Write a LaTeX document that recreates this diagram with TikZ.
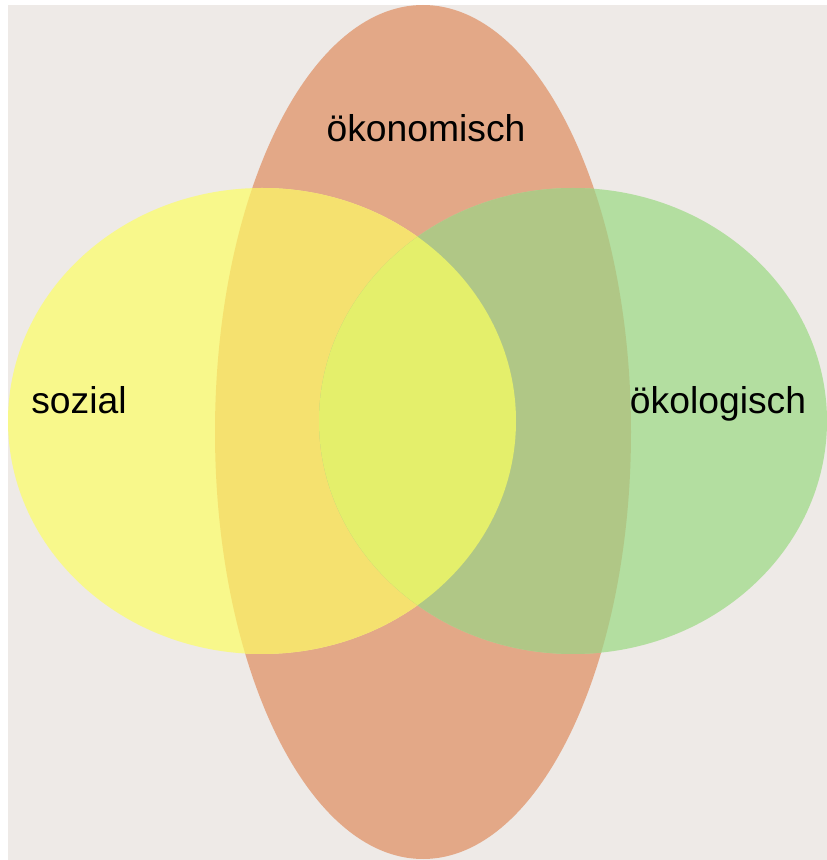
\documentclass[tikz,border=0pt]{standalone}
\usepackage{fontspec}
\setmainfont{Liberation Sans}
\usepackage{xcolor}
\usepackage{tikz}
\definecolor{bggray}{HTML}{EEEAE7}
\definecolor{oekoorange}{HTML}{E3A887}
\definecolor{sozyellow}{HTML}{F8F88B}
\definecolor{oekogreen}{HTML}{B3DEA0}
\definecolor{yelloworange}{HTML}{F5E16F}
\definecolor{greenorange}{HTML}{B0C786}
\definecolor{allthree}{HTML}{E4EF6B}
\tikzset{
    label/.style = {anchor=base, inner sep=0pt, font=\fontsize{10.6}{12}\selectfont},
    bigoval/.style = {x radius=208, y radius=427},
    sideoval/.style = {x radius=254, y radius=233},
}

\begin{document}
\begin{tikzpicture}[x=0.01cm, y=0.01cm]
\useasboundingbox (0,0) rectangle (827,860);
\fill[bggray] (8,0) rectangle (827,855);
\coordinate (oeko) at (423,428);
\coordinate (sozi) at (262,439);
\coordinate (oeko2) at (573,439);
%
\fill[oekoorange] (oeko) ellipse [bigoval];
\fill[sozyellow] (sozi) ellipse [sideoval];
\fill[oekogreen] (oeko2) ellipse [sideoval];
%
\begin{scope}
\clip (oeko) ellipse [bigoval];
\fill[yelloworange] (sozi) ellipse [sideoval];
\fill[greenorange] (oeko2) ellipse [sideoval];
\clip (sozi) ellipse [sideoval];
\fill[allthree] (oeko2) ellipse [sideoval];
\end{scope}
%
\node[label] at (426,718) (o) {ökonomisch};
\node[label] at (79,446) (s) {sozial};
\node[label] at (718,446) (e) {ökologisch};
\end{tikzpicture}
\end{document}
